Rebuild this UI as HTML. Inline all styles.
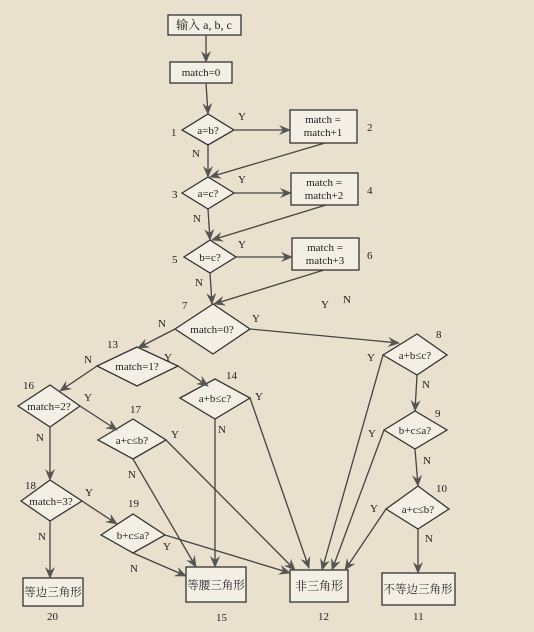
<!DOCTYPE html>
<html><head><meta charset="utf-8"><style>
html,body{margin:0;padding:0;background:#e9e1cd;}
svg{display:block;}
text{font-family:"Liberation Serif","Noto Serif CJK SC",serif;fill:#222;}
</style></head><body>
<svg width="534" height="632" viewBox="0 0 534 632" xmlns="http://www.w3.org/2000/svg">
<defs><marker id="a" markerWidth="12" markerHeight="10" refX="11" refY="5" orient="auto" markerUnits="userSpaceOnUse"><path d="M0,0 L12,5 L0,10 L4,5 z" fill="#555"/></marker></defs>
<rect width="534" height="632" fill="#e9e1cd"/>
<g stroke="#333" stroke-width="1.3" fill="#f3efe4">
<rect x="168" y="15" width="73" height="20"/>
<rect x="170" y="62" width="62" height="21"/>
<polygon points="182,130 208,114 234,130 208,145"/>
<rect x="290" y="110" width="67" height="33"/>
<polygon points="182,193 208,177 234,193 208,209"/>
<rect x="291" y="173" width="67" height="32"/>
<polygon points="184,257 210,240 236,257 210,273"/>
<rect x="292" y="238" width="67" height="32"/>
<polygon points="175,329 213,304 250,329 213,354"/>
<polygon points="97,366 137,347 178,366 137,386"/>
<polygon points="180,398 215,379 250,398 215,419"/>
<polygon points="18,406 50,385 80,406 50,427"/>
<polygon points="98,440 133,419 166,440 133,459"/>
<polygon points="21,501 50,480 82,501 50,521"/>
<polygon points="101,535 133,514 165,535 133,553"/>
<polygon points="383,355 417,334 447,355 417,375"/>
<polygon points="384,430 415,411 447,430 415,449"/>
<polygon points="386,509 418,486 449,509 418,529"/>
<rect x="23" y="578" width="60" height="28"/>
<rect x="186" y="567" width="60" height="35"/>
<rect x="290" y="570" width="58" height="32"/>
<rect x="382" y="573" width="73" height="32"/>
</g>
<g stroke="#444" stroke-width="1.3" fill="none" marker-end="url(#a)">
<line x1="206" y1="35" x2="206" y2="62"/>
<line x1="206" y1="83" x2="208" y2="114"/>
<line x1="234" y1="130" x2="290" y2="130"/>
<line x1="208" y1="145" x2="208" y2="177"/>
<line x1="325" y1="143" x2="210" y2="177"/>
<line x1="234" y1="193" x2="291" y2="193"/>
<line x1="208" y1="209" x2="210" y2="240"/>
<line x1="326" y1="205" x2="212" y2="240"/>
<line x1="236" y1="257" x2="292" y2="257"/>
<line x1="210" y1="273" x2="212" y2="304"/>
<line x1="324" y1="270" x2="214" y2="304"/>
<line x1="250" y1="329" x2="399" y2="343"/>
<line x1="175" y1="329" x2="138" y2="348"/>
<line x1="178" y1="366" x2="208" y2="386"/>
<line x1="97" y1="366" x2="60" y2="391"/>
<line x1="80" y1="406" x2="117" y2="430"/>
<line x1="50" y1="427" x2="50" y2="480"/>
<line x1="82" y1="501" x2="117" y2="524"/>
<line x1="50" y1="521" x2="50" y2="578"/>
<line x1="215" y1="419" x2="215" y2="567"/>
<line x1="250" y1="398" x2="309" y2="568"/>
<line x1="166" y1="440" x2="295" y2="570"/>
<line x1="133" y1="459" x2="196" y2="567"/>
<line x1="165" y1="535" x2="290" y2="573"/>
<line x1="133" y1="553" x2="186" y2="576"/>
<line x1="383" y1="355" x2="322" y2="570"/>
<line x1="384" y1="430" x2="332" y2="570"/>
<line x1="386" y1="509" x2="345" y2="570"/>
<line x1="417" y1="375" x2="415" y2="411"/>
<line x1="415" y1="449" x2="418" y2="486"/>
<line x1="418" y1="529" x2="418" y2="573"/>
</g>
<g font-size="11" text-anchor="middle">
<text x="204" y="29" font-size="12">输入 a, b, c</text>
<text x="201" y="76">match=0</text>
<text x="208" y="134">a=b?</text>
<text x="323" y="123">match =</text><text x="323" y="136">match+1</text>
<text x="208" y="197">a=c?</text>
<text x="324" y="186">match =</text><text x="324" y="199">match+2</text>
<text x="210" y="261">b=c?</text>
<text x="325" y="251">match =</text><text x="325" y="264">match+3</text>
<text x="212" y="333">match=0?</text>
<text x="137" y="370">match=1?</text>
<text x="215" y="402">a+b≤c?</text>
<text x="49" y="410">match=2?</text>
<text x="132" y="444">a+c≤b?</text>
<text x="51" y="505">match=3?</text>
<text x="133" y="539">b+c≤a?</text>
<text x="415" y="359">a+b≤c?</text>
<text x="415" y="434">b+c≤a?</text>
<text x="418" y="513">a+c≤b?</text>
<text x="53" y="596" font-size="11.5">等边三角形</text>
<text x="216" y="589" font-size="11.5">等腰三角形</text>
<text x="319" y="590" font-size="12">非三角形</text>
<text x="418" y="593" font-size="11.5">不等边三角形</text>
</g>
<g font-size="11">
<text x="171" y="136">1</text><text x="367" y="131">2</text>
<text x="172" y="198">3</text><text x="367" y="194">4</text>
<text x="172" y="263">5</text><text x="367" y="259">6</text>
<text x="182" y="309">7</text><text x="436" y="338">8</text>
<text x="435" y="417">9</text><text x="436" y="492">10</text>
<text x="107" y="348">13</text><text x="226" y="379">14</text>
<text x="23" y="389">16</text><text x="130" y="413">17</text>
<text x="25" y="489">18</text><text x="128" y="507">19</text>
<text x="47" y="620">20</text><text x="216" y="621">15</text>
<text x="318" y="620">12</text><text x="413" y="620">11</text>
<text x="238" y="120">Y</text><text x="192" y="157">N</text>
<text x="238" y="183">Y</text><text x="193" y="222">N</text>
<text x="238" y="248">Y</text><text x="195" y="286">N</text>
<text x="321" y="308">Y</text><text x="343" y="303">N</text>
<text x="252" y="322">Y</text><text x="158" y="327">N</text>
<text x="164" y="361">Y</text><text x="84" y="363">N</text>
<text x="255" y="400">Y</text><text x="218" y="433">N</text>
<text x="84" y="401">Y</text><text x="36" y="441">N</text>
<text x="171" y="438">Y</text><text x="128" y="478">N</text>
<text x="85" y="496">Y</text><text x="38" y="540">N</text>
<text x="163" y="550">Y</text><text x="130" y="572">N</text>
<text x="367" y="361">Y</text><text x="422" y="388">N</text>
<text x="368" y="437">Y</text><text x="423" y="464">N</text>
<text x="370" y="512">Y</text><text x="425" y="542">N</text>
</g>
</svg>
</body></html>
